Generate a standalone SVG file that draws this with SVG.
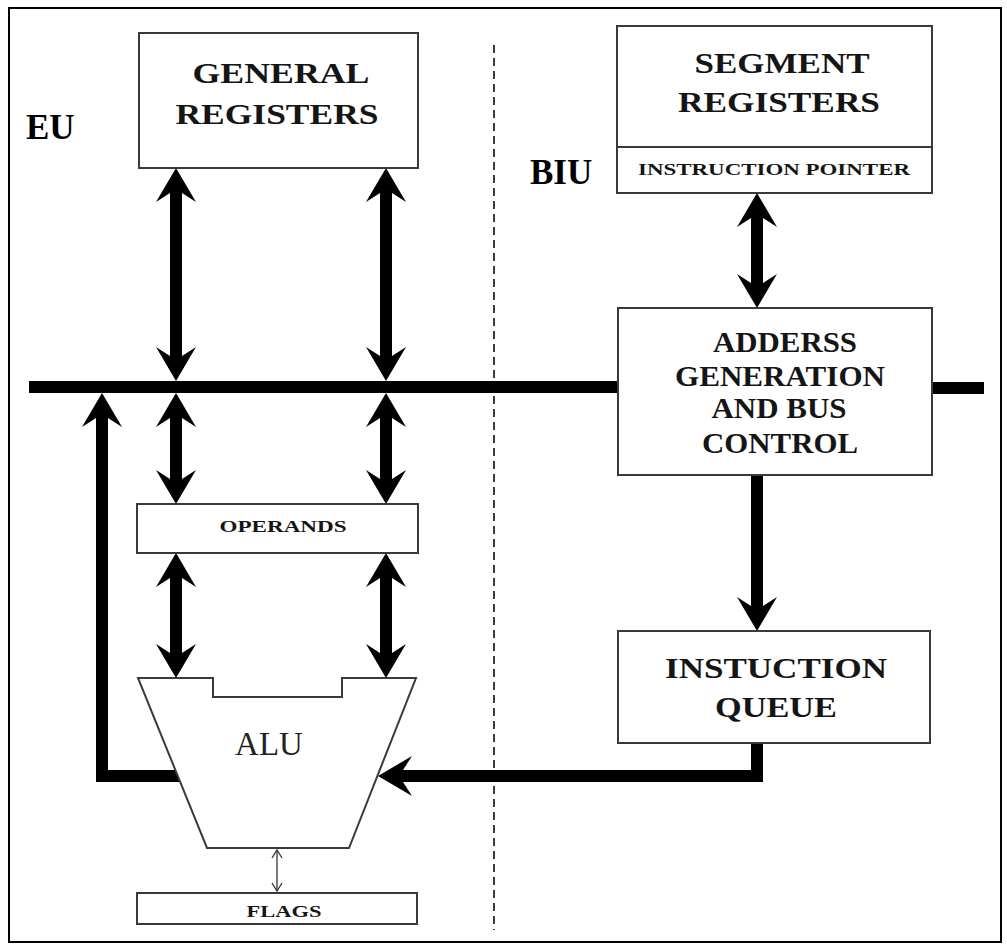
<svg xmlns="http://www.w3.org/2000/svg" width="1007" height="947" viewBox="0 0 1007 947">
<style>
  .box { fill: #ffffff; stroke: #3a3a3a; stroke-width: 2; }
  .lbl { font-family: "Liberation Serif", "Times New Roman", serif; font-weight: bold; fill: #151515; text-anchor: middle; }
  .big { font-size: 29px; }
  .mid { font-size: 17px; }
  .unit { font-family: "Liberation Serif", "Times New Roman", serif; font-weight: bold; font-size: 35px; fill: #000; }
  .alu { font-family: "Liberation Serif", "Times New Roman", serif; font-size: 33px; fill: #222; text-anchor: middle; }
  .wire { fill: none; stroke: #000; stroke-width: 12; }
  .thin { fill: none; stroke: #333; stroke-width: 1.3; }
</style>
<defs>
  <path id="ah" d="M0,0 L20,34 L6,25 L-6,25 L-20,34 Z" fill="#000"/>
</defs>
<rect x="0" y="0" width="1007" height="947" fill="#ffffff"/>
<rect x="9" y="8" width="992" height="934" fill="none" stroke="#000" stroke-width="2"/>

<line x1="494" y1="45" x2="494" y2="930" stroke="#3c3c3c" stroke-width="2" stroke-dasharray="8,5"/>

<g id="connectors">
  <!-- bus -->
  <line class="wire" x1="29" y1="387" x2="618" y2="387"/>
  <line class="wire" x1="932" y1="388" x2="984" y2="388"/>
  <!-- general registers <-> bus -->
  <line class="wire" x1="176" y1="190" x2="176" y2="360"/>
  <use href="#ah" transform="translate(176,168)"/>
  <use href="#ah" transform="translate(176,381) rotate(180)"/>
  <line class="wire" x1="386" y1="190" x2="386" y2="360"/>
  <use href="#ah" transform="translate(386,168)"/>
  <use href="#ah" transform="translate(386,381) rotate(180)"/>
  <!-- bus <-> operands -->
  <line class="wire" x1="176" y1="415" x2="176" y2="482"/>
  <use href="#ah" transform="translate(176,393)"/>
  <use href="#ah" transform="translate(176,504) rotate(180)"/>
  <line class="wire" x1="386" y1="415" x2="386" y2="482"/>
  <use href="#ah" transform="translate(386,393)"/>
  <use href="#ah" transform="translate(386,504) rotate(180)"/>
  <!-- operands <-> ALU -->
  <line class="wire" x1="176" y1="575" x2="176" y2="656"/>
  <use href="#ah" transform="translate(176,553)"/>
  <use href="#ah" transform="translate(176,678) rotate(180)"/>
  <line class="wire" x1="386" y1="575" x2="386" y2="656"/>
  <use href="#ah" transform="translate(386,553)"/>
  <use href="#ah" transform="translate(386,678) rotate(180)"/>
  <!-- instruction pointer <-> address generation -->
  <line class="wire" x1="757" y1="215" x2="757" y2="286"/>
  <use href="#ah" transform="translate(757,193)"/>
  <use href="#ah" transform="translate(757,308) rotate(180)"/>
  <!-- address generation -> instruction queue -->
  <line class="wire" x1="757" y1="475" x2="757" y2="608"/>
  <use href="#ah" transform="translate(757,631) rotate(180)"/>
  <!-- instruction queue -> ALU -->
  <path class="wire" d="M757,743 V776 H400"/>
  <use href="#ah" transform="translate(378,776) rotate(-90)"/>
  <!-- ALU -> bus feedback -->
  <path class="wire" d="M180,776 H102 V415"/>
  <use href="#ah" transform="translate(102,393)"/>
  <!-- ALU <-> flags -->
  <line class="thin" x1="277" y1="850" x2="277" y2="891"/>
  <polyline class="thin" points="272,858 277,850 282,858"/>
  <polyline class="thin" points="272,883 277,891 282,883"/>
</g>

<g id="eu-label"><text class="unit" x="26" y="139">EU</text></g>
<g id="biu-label"><text class="unit" x="530" y="184">BIU</text></g>

<g id="general-registers">
  <rect class="box" x="139" y="33" width="279" height="135"/>
  <text class="lbl big" x="281" y="83" textLength="177" lengthAdjust="spacingAndGlyphs">GENERAL</text>
  <text class="lbl big" x="277" y="124" textLength="203" lengthAdjust="spacingAndGlyphs">REGISTERS</text>
</g>

<g id="segment-registers">
  <rect class="box" x="617" y="26" width="315" height="167"/>
  <line x1="617" y1="147" x2="932" y2="147" stroke="#3a3a3a" stroke-width="2"/>
  <text class="lbl big" x="782" y="73" textLength="175" lengthAdjust="spacingAndGlyphs">SEGMENT</text>
  <text class="lbl big" x="779" y="112" textLength="202" lengthAdjust="spacingAndGlyphs">REGISTERS</text>
  <text class="lbl mid" x="774" y="175" textLength="272" lengthAdjust="spacingAndGlyphs">INSTRUCTION POINTER</text>
</g>

<g id="address-generation">
  <rect class="box" x="618" y="308" width="314" height="167"/>
  <text class="lbl big" x="785" y="352" textLength="144" lengthAdjust="spacingAndGlyphs">ADDERSS</text>
  <text class="lbl big" x="780" y="386" textLength="210" lengthAdjust="spacingAndGlyphs">GENERATION</text>
  <text class="lbl big" x="779" y="418" textLength="135" lengthAdjust="spacingAndGlyphs">AND BUS</text>
  <text class="lbl big" x="780" y="453" textLength="156" lengthAdjust="spacingAndGlyphs">CONTROL</text>
</g>

<g id="instruction-queue">
  <rect class="box" x="618" y="631" width="312" height="112"/>
  <text class="lbl big" x="776" y="678" textLength="222" lengthAdjust="spacingAndGlyphs">INSTUCTION</text>
  <text class="lbl big" x="776" y="717" textLength="122" lengthAdjust="spacingAndGlyphs">QUEUE</text>
</g>

<g id="operands">
  <rect class="box" x="137" y="504" width="281" height="49"/>
  <text class="lbl" x="283" y="532" font-size="16" textLength="127" lengthAdjust="spacingAndGlyphs">OPERANDS</text>
</g>

<g id="alu">
  <polygon class="box" points="138,678 213,678 213,697 342,697 342,678 416,678 349,848 207,848"/>
  <text class="alu" x="269" y="755">ALU</text>
</g>

<g id="flags">
  <rect class="box" x="137" y="893" width="280" height="31"/>
  <text class="lbl mid" x="284" y="917" textLength="75" lengthAdjust="spacingAndGlyphs">FLAGS</text>
</g>
</svg>
